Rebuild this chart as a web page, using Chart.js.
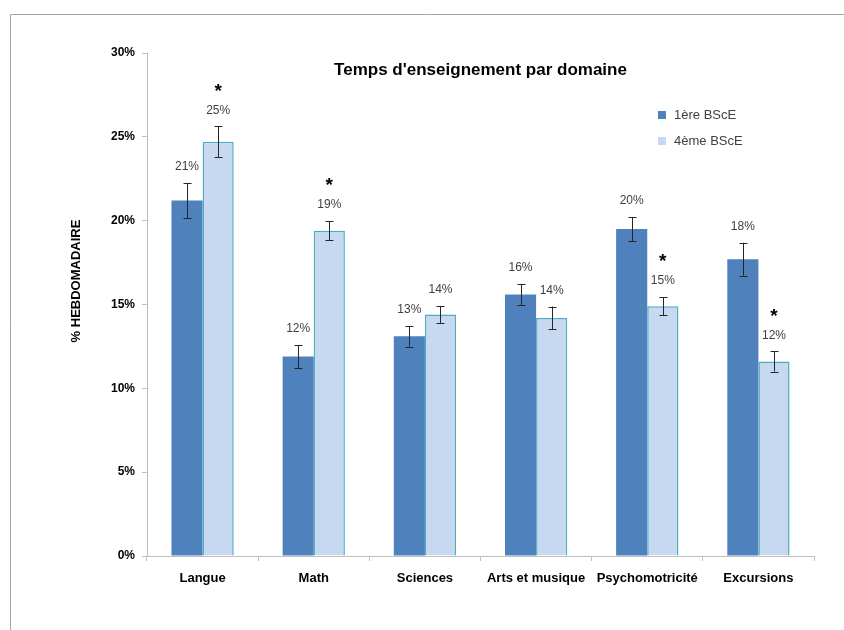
<!DOCTYPE html>
<html>
<head>
<meta charset="utf-8">
<script src="https://cdn.jsdelivr.net/npm/chart.js@4.4.0/dist/chart.umd.min.js"></script>
<style>
  html, body { margin: 0; padding: 0; background: #fff; }
  #wrap { width: 844px; height: 630px; position: relative; }
</style>
</head>
<body>
<div id="wrap"><canvas id="chart" width="844" height="630"></canvas></div>
<script>
// ==============================
// DATA
// ==============================
const categories = ['Langue', 'Math', 'Sciences', 'Arts et musique', 'Psychomotricité', 'Excursions'];
const seriesNames = ['1ère BScE', '4ème BScE'];
const firstYear = [21.2, 11.9, 13.1, 15.6, 19.5, 17.7];
const fourthYear = [24.7, 19.4, 14.4, 14.2, 14.9, 11.6];
const firstYearErr = [1.05, 0.69, 0.61, 0.63, 0.72, 0.98];
const fourthYearErr = [0.93, 0.57, 0.5, 0.68, 0.54, 0.6];
const significant = [true, true, false, false, true, true]; // asterisk on 4ème BScE
const yTicks = [0, 5, 10, 15, 20, 25, 30];

const FONT = '"Liberation Sans", Arial, sans-serif';
const errors = [firstYearErr, fourthYearErr];

// ==============================
// CUSTOM DRAWING
// ==============================
const decorations = {
    id: 'decorations',
    beforeDraw(chart) {
        const ctx = chart.ctx;
        ctx.save();
        ctx.strokeStyle = '#a6a6a6';
        ctx.lineWidth = 1;
        ctx.beginPath();
        ctx.moveTo(10.5, 630);
        ctx.lineTo(10.5, 14.5);
        ctx.lineTo(844, 14.5);
        ctx.stroke();
        ctx.restore();
    },
    afterDatasetsDraw(chart) {
        const ctx = chart.ctx;
        const y = chart.scales.y;
        const area = chart.chartArea;
        ctx.save();

        chart.data.datasets.forEach((ds, i) => {
            const meta = chart.getDatasetMeta(i);
            meta.data.forEach((bar, j) => {
                const v = ds.data[j];
                const e = errors[i][j];
                const top = y.getPixelForValue(v + e);
                const bot = y.getPixelForValue(v - e);
                const x = Math.round(bar.x) + 0.5;

                // error bar
                ctx.strokeStyle = '#262626';
                ctx.lineWidth = 1;
                ctx.beginPath();
                ctx.moveTo(x, top);
                ctx.lineTo(x, bot);
                ctx.moveTo(x - 4, Math.round(top) + 0.5);
                ctx.lineTo(x + 4, Math.round(top) + 0.5);
                ctx.moveTo(x - 4, Math.round(bot) + 0.5);
                ctx.lineTo(x + 4, Math.round(bot) + 0.5);
                ctx.stroke();

                // value label
                const labelY = top - 16;
                ctx.fillStyle = '#404040';
                ctx.font = '12px ' + FONT;
                ctx.textAlign = 'center';
                ctx.textBaseline = 'middle';
                ctx.fillText(Math.round(v) + '%', bar.x, labelY);

                // significance
                if (i === 1 && significant[j]) {
                    ctx.fillStyle = '#000';
                    ctx.font = 'bold 19px ' + FONT;
                    ctx.fillText('*', bar.x, labelY - 19);
                }
            });
        });

        // title
        ctx.fillStyle = '#000';
        ctx.font = 'bold 17px ' + FONT;
        ctx.textAlign = 'center';
        ctx.textBaseline = 'middle';
        ctx.fillText("Temps d'enseignement par domaine", (area.left + area.right) / 2, 70);

        // y axis title
        ctx.save();
        ctx.translate(76, 281);
        ctx.rotate(-Math.PI / 2);
        ctx.font = 'bold 13px ' + FONT;
        ctx.fillText('% HEBDOMADAIRE', 0, 0);
        ctx.restore();

        // legend
        const legendRows = [115, 141];
        chart.data.datasets.forEach((ds, i) => {
            ctx.fillStyle = ds.backgroundColor;
            ctx.fillRect(658, legendRows[i] - 4, 8, 8);
            ctx.fillStyle = '#404040';
            ctx.font = '13px ' + FONT;
            ctx.textAlign = 'left';
            ctx.fillText(seriesNames[i], 674, legendRows[i]);
        });

        ctx.restore();
    }
};

// ==============================
// CHART
// ==============================
const ctx = document.getElementById('chart').getContext('2d');
new Chart(ctx, {
    type: 'bar',
    data: {
        labels: categories,
        datasets: [
            {
                label: seriesNames[0],
                data: firstYear,
                backgroundColor: '#4f81bd',
                borderWidth: 0,
                categoryPercentage: 0.56,
                barPercentage: 1.0
            },
            {
                label: seriesNames[1],
                data: fourthYear,
                backgroundColor: '#c6d9f1',
                borderColor: '#4bacc6',
                borderWidth: 1.5,
                categoryPercentage: 0.56,
                barPercentage: 1.0
            }
        ]
    },
    options: {
        responsive: false,
        animation: false,
        layout: { padding: { top: 53, right: 30, left: 0, bottom: 0 } },
        plugins: {
            legend: { display: false },
            title: { display: false },
            tooltip: { enabled: false }
        },
        scales: {
            x: {
                offset: true,
                grid: {
                    offset: true,
                    drawOnChartArea: false,
                    drawTicks: true,
                    tickLength: 5,
                    color: '#bfbfbf'
                },
                border: { color: '#bfbfbf' },
                ticks: {
                    autoSkip: false,
                    maxRotation: 0,
                    padding: 10,
                    color: '#000',
                    font: { family: FONT, size: 13, weight: 'bold' }
                },
                afterFit: (s) => { s.height = 74; }
            },
            y: {
                min: 0,
                max: 30,
                afterBuildTicks: (s) => { s.ticks = yTicks.map(v => ({ value: v })); },
                grid: {
                    drawOnChartArea: false,
                    drawTicks: true,
                    tickLength: 5,
                    color: '#bfbfbf'
                },
                border: { color: '#bfbfbf' },
                ticks: {
                    padding: 7,
                    color: '#000',
                    font: { family: FONT, size: 12, weight: 'bold' },
                    callback: (v) => v + '%'
                },
                afterFit: (s) => { s.width = 147; }
            }
        }
    },
    plugins: [decorations]
});
</script>
</body>
</html>
